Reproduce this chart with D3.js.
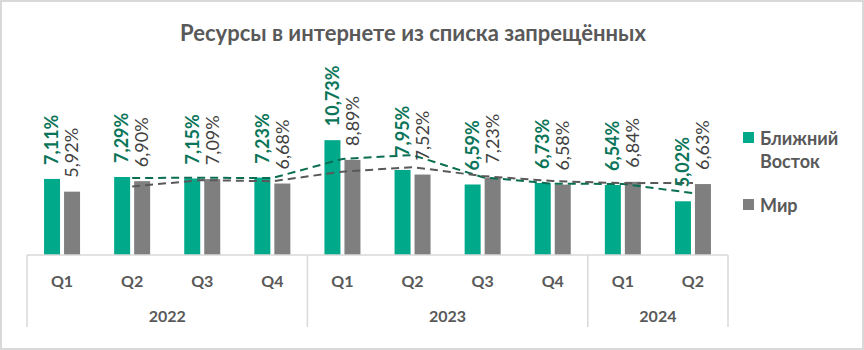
<!DOCTYPE html>
<html>
<head>
<meta charset="utf-8">
<script src="https://cdn.jsdelivr.net/npm/d3@7"></script>
<style>
  html, body { margin: 0; padding: 0; background: #fff; }
  svg { display: block; }
</style>
</head>
<body>
<svg id="chart" width="864" height="350"></svg>
<script>
const title = "Ресурсы в интернете из списка запрещённых";
const quarters = ["Q1", "Q2", "Q3", "Q4", "Q1", "Q2", "Q3", "Q4", "Q1", "Q2"];
const years = ["2022", "2022", "2022", "2022", "2023", "2023", "2023", "2023", "2024", "2024"];
const seriesNames = ["Ближний Восток", "Мир"];
const middleEast = [7.11, 7.29, 7.15, 7.23, 10.73, 7.95, 6.59, 6.73, 6.54, 5.02];
const world = [5.92, 6.90, 7.09, 6.68, 8.89, 7.52, 7.23, 6.58, 6.84, 6.63];
// dashed trend lines (2-period moving averages), starting at the 2nd category
const middleEastTrend = [null, 7.20, 7.22, 7.19, 8.98, 9.34, 7.27, 6.66, 6.64, 5.78];
const worldTrend = [null, 6.41, 7.00, 6.89, 7.79, 8.21, 7.38, 6.91, 6.71, 6.74];

const colors = { green: "#00A98A", gray: "#7F7F7F", greenText: "#0A7559", grayText: "#404040",
                 axisText: "#595959", grid: "#D9D9D9", greenTrend: "#0A6E52", grayTrend: "#595959" };
const font = "Lato, 'Open Sans', sans-serif";

const svg = d3.select("#chart");
const W = 864, H = 350;

// outer border
svg.append("rect").attr("x", 1).attr("y", 1).attr("width", W - 2).attr("height", H - 2)
  .attr("fill", "#fff").attr("stroke", colors.grid).attr("stroke-width", 2);

// title
svg.append("text").attr("x", 413).attr("y", 41).attr("text-anchor", "middle")
  .attr("font-family", font).attr("font-weight", "bold").attr("font-size", 22)
  .attr("fill", colors.axisText).text(title);

const idx = d3.range(quarters.length);
const x = d3.scaleBand().domain(idx).range([27, 728]).padding(0);
const inner = d3.scaleBand().domain([0, 1]).range([-18, 18]).paddingInner(0.2).paddingOuter(0);
const y = d3.scaleLinear().domain([0, 20]).range([255, 41]);
const cx = i => x(i) + x.bandwidth() / 2;

const series = [
  { name: seriesNames[0], values: middleEast, fill: colors.green, text: colors.greenText, weight: "bold" },
  { name: seriesNames[1], values: world, fill: colors.gray, text: colors.grayText, weight: "normal" }
];

// bars
series.forEach((s, si) => {
  const g = svg.append("g");
  g.selectAll("rect").data(s.values).join("rect")
    .attr("x", (d, i) => cx(i) + inner(si))
    .attr("width", inner.bandwidth())
    .attr("y", d => y(d))
    .attr("height", d => y(0) - y(d))
    .attr("fill", s.fill);
});

// trend lines
const line = d3.line().defined(d => d != null).x((d, i) => cx(i)).y(d => y(d));
[[middleEastTrend, colors.greenTrend], [worldTrend, colors.grayTrend]].forEach(([vals, col]) => {
  svg.append("path").datum(vals).attr("d", line)
    .attr("fill", "none").attr("stroke", col).attr("stroke-width", 2)
    .attr("stroke-dasharray", "8,5");
});

// labels
const fmt = v => d3.format(".2f")(v).replace(".", ",") + "%";
series.forEach((s, si) => {
  const g = svg.append("g");
  g.selectAll("text").data(s.values).join("text")
    .attr("transform", (d, i) => `translate(${cx(i) + inner(si) + inner.bandwidth() / 2},${y(d) - 14}) rotate(-90)`)
    .attr("dy", "0.35em")
    .attr("text-anchor", "start")
    .attr("font-family", font).attr("font-size", 18).attr("font-weight", s.weight)
    .attr("fill", s.text).text(d => fmt(d));
});

// category axis
const axis = svg.append("g");
axis.append("line").attr("x1", x.range()[0]).attr("x2", x.range()[1]).attr("y1", 255).attr("y2", 255)
  .attr("stroke", colors.grid).attr("stroke-width", 1.5);
const groups = [];
years.forEach((yr, i) => {
  if (!groups.length || groups[groups.length - 1].year !== yr) groups.push({ year: yr, start: i, end: i });
  else groups[groups.length - 1].end = i;
});
const bounds = [x(0)].concat(groups.map(g => x(g.end) + x.bandwidth()));
axis.selectAll("line.sep").data(bounds).join("line").attr("class", "sep")
  .attr("x1", d => d).attr("x2", d => d).attr("y1", 255).attr("y2", 327)
  .attr("stroke", colors.grid).attr("stroke-width", 1.5);
axis.selectAll("text.q").data(quarters).join("text").attr("class", "q")
  .attr("x", (d, i) => cx(i)).attr("y", 287).attr("text-anchor", "middle")
  .attr("font-family", font).attr("font-weight", "bold").attr("font-size", 16)
  .attr("fill", colors.axisText).text(d => d);
axis.selectAll("text.yr").data(groups).join("text").attr("class", "yr")
  .attr("x", g => (x(g.start) + x(g.end) + x.bandwidth()) / 2).attr("y", 322).attr("text-anchor", "middle")
  .attr("font-family", font).attr("font-weight", "bold").attr("font-size", 16)
  .attr("fill", colors.axisText).text(g => g.year);

// legend
const legend = svg.append("g");
const legendItems = [
  { lines: ["Ближний", "Восток"], fill: colors.green, y: 132 },
  { lines: ["Мир"], fill: colors.gray, y: 199 }
];
legendItems.forEach(it => {
  legend.append("rect").attr("x", 743).attr("y", it.y).attr("width", 11).attr("height", 11).attr("fill", it.fill);
  it.lines.forEach((t, li) => {
    legend.append("text").attr("x", 760).attr("y", it.y + 13 + li * 23)
      .attr("font-family", font).attr("font-weight", "bold").attr("font-size", 18)
      .attr("fill", colors.axisText).text(t);
  });
});
</script>
</body>
</html>
